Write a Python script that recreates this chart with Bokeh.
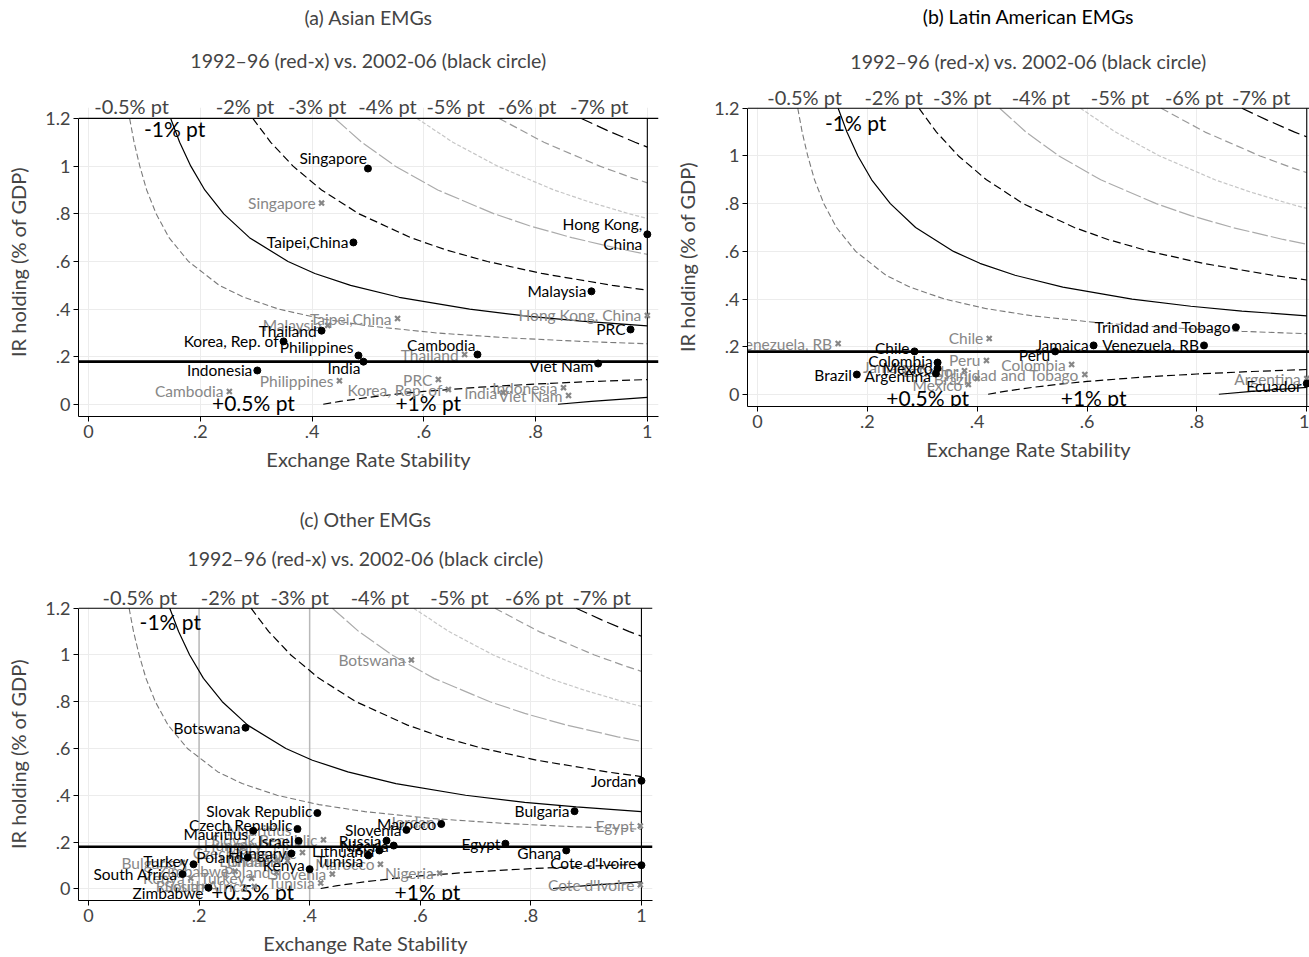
from bokeh.plotting import figure
from bokeh.models import Range1d, LinearAxis, FixedTicker, Span, Title, CustomJSTickFormatter
from bokeh.layouts import column, row
from bokeh.embed import file_html
from bokeh.resources import INLINE
from bokeh.core.properties import value

FONT = "Lato"

# ---------------- data: iso-curves ----------------
CURVE_M05_X = [0.0735, 0.0815, 0.0917, 0.104, 0.121, 0.144, 0.179, 0.234, 0.278, 0.341, 0.417, 0.5, 0.625, 0.75, 0.882, 1.0]
CURVE_M05_Y = [1.2, 1.1, 1.0, 0.9, 0.8, 0.7, 0.6, 0.5, 0.45, 0.4, 0.36, 0.33, 0.3, 0.28, 0.265, 0.255]
CURVE_M1_X = [0.147, 0.163, 0.183, 0.208, 0.242, 0.288, 0.357, 0.405, 0.469, 0.556, 0.682, 0.789, 0.882, 1.0]
CURVE_M1_Y = [1.2, 1.1, 1.0, 0.9, 0.8, 0.7, 0.6, 0.55, 0.5, 0.45, 0.4, 0.37, 0.35, 0.33]
CURVE_M2_X = [0.294, 0.326, 0.366, 0.417, 0.484, 0.577, 0.638, 0.714, 0.811, 0.9375, 1.0]
CURVE_M2_Y = [1.2, 1.1, 1.0, 0.9, 0.8, 0.7, 0.65, 0.6, 0.55, 0.5, 0.48]
CURVE_M3_X = [0.441, 0.489, 0.549, 0.625, 0.726, 0.789, 0.865, 0.957, 1.0]
CURVE_M3_Y = [1.2, 1.1, 1.0, 0.9, 0.8, 0.75, 0.7, 0.65, 0.63]
CURVE_M4_X = [0.588, 0.652, 0.732, 0.833, 0.896, 0.968, 1.0]
CURVE_M4_Y = [1.2, 1.1, 1.0, 0.9, 0.85, 0.8, 0.78]
CURVE_M5_X = [0.735, 0.815, 0.915, 0.974, 1.0]
CURVE_M5_Y = [1.2, 1.1, 1.0, 0.95, 0.93]
CURVE_M6_X = [0.882, 0.928, 0.978, 1.0]
CURVE_M6_Y = [1.2, 1.15, 1.1, 1.08]
CURVE_P05_X = [0.42, 0.45, 0.5, 0.55, 0.6, 0.7, 0.8, 0.9, 1.0]
CURVE_P05_Y = [0.0014, 0.0133, 0.03, 0.0436, 0.055, 0.0729, 0.0863, 0.0967, 0.105]
CURVE_P1_X = [0.84, 0.9, 0.95, 1.0]
CURVE_P1_Y = [0.0014, 0.0133, 0.0221, 0.03]

ZERO_LINE_Y = 0.18
TOP_LABELS = ["-0.5% pt", "-2% pt", "-3% pt", "-4% pt", "-5% pt", "-6% pt", "-7% pt"]
X_TICKS = [0, 0.2, 0.4, 0.6, 0.8, 1.0]
Y_TICKS = [0, 0.2, 0.4, 0.6, 0.8, 1.0, 1.2]
SUBTITLE = "1992\u201396 (red-x) vs. 2002-06 (black circle)"

# ---------------- data: panel (a) Asian EMGs ----------------
A_NEW_NAMES = ["Singapore", "Taipei,China", "Hong Kong,\nChina", "Malaysia", "PRC", "Thailand",
               "Korea, Rep. of", "Philippines", "India", "Cambodia", "Indonesia", "Viet Nam"]
A_NEW_X = [0.50, 0.474, 1.0, 0.90, 0.97, 0.417, 0.349, 0.483, 0.492, 0.696, 0.302, 0.912]
A_NEW_Y = [0.99, 0.68, 0.714, 0.475, 0.315, 0.31, 0.265, 0.206, 0.18, 0.21, 0.143, 0.172]
A_OLD_NAMES = ["Singapore", "Taipei,China", "Malaysia", "Hong Kong, China", "Thailand", "Philippines",
               "Cambodia", "PRC", "Korea, Rep. of", "India", "Indonesia", "Viet Nam"]
A_OLD_X = [0.417, 0.553, 0.428, 1.0, 0.673, 0.449, 0.252, 0.626, 0.644, 0.742, 0.85, 0.859]
A_OLD_Y = [0.845, 0.361, 0.332, 0.374, 0.21, 0.10, 0.055, 0.105, 0.063, 0.05, 0.071, 0.038]
A_TOP_TICKS = [0.077, 0.28, 0.409, 0.535, 0.657, 0.785, 0.914]

# ---------------- data: panel (b) Latin American EMGs ----------------
B_NEW_NAMES = ["Trinidad and Tobago", "Jamaica", "Venezuela, RB", "Chile", "Peru", "Colombia",
               "Mexico", "Argentina", "Brazil", "Ecuador"]
B_NEW_X = [0.871, 0.612, 0.813, 0.286, 0.542, 0.328, 0.328, 0.325, 0.181, 1.0]
B_NEW_Y = [0.282, 0.206, 0.206, 0.181, 0.181, 0.134, 0.11, 0.088, 0.084, 0.046]
B_OLD_NAMES = ["Venezuela, RB", "Chile", "Peru", "Colombia", "Jamaica", "Ecuador", "Brazil",
               "Trinidad and Tobago", "Mexico", "Argentina"]
B_OLD_X = [0.147, 0.422, 0.417, 0.572, 0.30, 0.377, 0.40, 0.596, 0.384, 1.0]
B_OLD_Y = [0.214, 0.235, 0.143, 0.126, 0.115, 0.10, 0.067, 0.084, 0.042, 0.067]
B_TOP_TICKS = [0.086, 0.248, 0.373, 0.516, 0.66, 0.795, 0.917]

# ---------------- data: panel (c) Other EMGs ----------------
C_NEW_NAMES = ["Botswana", "Jordan", "Bulgaria", "Slovak Republic", "Czech Republic", "Marocco",
               "Slovenia", "Mauritius", "Israel", "Russia", "Nigeria", "Egypt", "Lithuania",
               "Tunisia", "Ghana", "Hungary", "Poland", "Kenya", "Turkey", "South Africa",
               "Zimbabwe", "Cote d'Ivoire"]
C_NEW_X = [0.284, 1.0, 0.879, 0.414, 0.378, 0.638, 0.575, 0.298, 0.38, 0.539, 0.552, 0.754, 0.526,
           0.506, 0.864, 0.367, 0.288, 0.40, 0.19, 0.17, 0.217, 1.0]
C_NEW_Y = [0.689, 0.462, 0.332, 0.324, 0.256, 0.277, 0.252, 0.248, 0.205, 0.206, 0.185, 0.193, 0.164,
           0.143, 0.164, 0.151, 0.134, 0.084, 0.105, 0.063, 0.005, 0.101]
C_OLD_NAMES = ["Botswana", "Egypt", "Jordan", "Nigeria", "Cote d'Ivoire", "Marocco", "Mauritius",
               "Slovak Republic", "Czech Republic", "Slovenia", "Tunisia", "Hungary", "Israel",
               "Lithuania", "Ghana", "Bulgaria", "Zimbabwe", "Kenya", "Turkey", "Poland", "Russia",
               "South Africa"]
C_OLD_X = [0.584, 0.998, 0.637, 0.635, 0.998, 0.528, 0.378, 0.425, 0.387, 0.441, 0.42, 0.325, 0.36,
           0.36, 0.34, 0.17, 0.265, 0.185, 0.295, 0.34, 0.21, 0.30]
C_OLD_Y = [0.979, 0.269, 0.286, 0.067, 0.017, 0.105, 0.252, 0.21, 0.155, 0.063, 0.025, 0.189, 0.14,
           0.12, 0.12, 0.112, 0.075, 0.045, 0.045, 0.07, 0.01, 0.01]
C_TOP_TICKS = [0.093, 0.256, 0.382, 0.527, 0.671, 0.806, 0.928]

# ---------------- style ----------------
GRAY = "#878787"
CURVES = [
    (CURVE_M05_X, CURVE_M05_Y, "#7a7a7a", "6 3", 1.1),
    (CURVE_M1_X, CURVE_M1_Y, "black", "solid", 1.2),
    (CURVE_M2_X, CURVE_M2_Y, "black", "8 4", 1.2),
    (CURVE_M3_X, CURVE_M3_Y, "#ababab", "16 3", 1.2),
    (CURVE_M4_X, CURVE_M4_Y, "#c6c6c6", "4 2", 1.2),
    (CURVE_M5_X, CURVE_M5_Y, "#9a9a9a", "8 4", 1.2),
    (CURVE_M6_X, CURVE_M6_Y, "black", "12 5", 1.2),
    (CURVE_P05_X, CURVE_P05_Y, "black", "8 4", 1.2),
    (CURVE_P1_X, CURVE_P1_Y, "black", "solid", 1.2),
]

# label vertical nudges (screen px, + = down)
NEW_DY = {
    "Singapore": -11, "Philippines": -8, "India": 6, "Cambodia": -10, "Viet Nam": 2,
    "Chile": -3, "Peru": 4, "Colombia": -2, "Mexico": 0, "Argentina": 2, "Ecuador": 2,
    "Czech Republic": -4, "Slovak Republic": -2, "Mauritius": 3, "Tunisia": 6, "Ghana": 3,
    "Kenya": -4, "Turkey": -3, "Zimbabwe": 5, "Cote d'Ivoire": -2, "Lithuania": 1,
}
NEW_DX = {"Singapore": 4, "Cambodia": 3, "India": 2}

LABEL_SIZE = "15.5px"
TITLE_SIZE = "19.5px"

tickfmt = CustomJSTickFormatter(code="""
const v = Math.round(tick*10)/10;
if (v == 0) return '0';
return v.toString().replace(/^0\\./, '.');
""")


def make_panel(title, width, height, mbl, mbr, mbt, mbb, x_end, y_start, y_end, top_ticks,
               top_standoff, sub_standoff, main_standoff, new, old, minus1, plus05, plus1,
               extra_vlines=(), main_axis_gap=None):
    p = figure(width=width, height=height, x_range=Range1d(-0.018, x_end),
               y_range=Range1d(y_start, y_end), output_backend="svg", toolbar_location=None,
               min_border_left=mbl, min_border_right=mbr, min_border_top=mbt, min_border_bottom=mbb,
               title=None)
    p.outline_line_color = None
    p.background_fill_color = "white"
    p.border_fill_color = "white"

    p.xgrid.ticker = FixedTicker(ticks=X_TICKS)
    p.ygrid.ticker = FixedTicker(ticks=Y_TICKS)
    p.xgrid.grid_line_color = "#ececec"
    p.ygrid.grid_line_color = "#ececec"

    for ax in (p.xaxis[0], p.yaxis[0]):
        ax.formatter = tickfmt
        ax.axis_line_color = "black"
        ax.major_tick_line_color = "black"
        ax.major_tick_out = 5
        ax.major_tick_in = 0
        ax.minor_tick_line_color = None
        ax.major_label_text_font = FONT
        ax.major_label_text_font_size = "18px"
        ax.axis_label_text_font = FONT
        ax.axis_label_text_font_style = "normal"
        ax.major_label_standoff = 3
    p.xaxis[0].ticker = FixedTicker(ticks=X_TICKS)
    p.yaxis[0].ticker = FixedTicker(ticks=Y_TICKS)
    p.yaxis[0].bounds = (-0.3, 1.2)
    p.xaxis[0].axis_label = "Exchange Rate Stability"
    p.xaxis[0].axis_label_text_font_size = "20px"
    p.xaxis[0].axis_label_standoff = 6
    p.yaxis[0].axis_label = "IR holding (% of GDP)"
    p.yaxis[0].axis_label_text_font_size = "20px"
    p.yaxis[0].axis_label_standoff = 12

    # curve labels along the top: an extra axis above the frame
    top = LinearAxis(ticker=FixedTicker(ticks=top_ticks),
                     formatter=CustomJSTickFormatter(args=dict(L=TOP_LABELS), code="return L[index];"),
                     axis_line_color=None, major_tick_line_color=None, minor_tick_line_color=None,
                     major_tick_out=0, major_tick_in=0,
                     major_label_standoff=top_standoff, major_label_text_font=FONT,
                     major_label_text_font_size="20px")
    p.add_layout(top, "above")
    p.add_layout(Title(text=SUBTITLE, align="center", text_font=FONT, text_font_size=TITLE_SIZE,
                       text_font_style="normal", standoff=sub_standoff), "above")
    if main_axis_gap is None:
        p.add_layout(Title(text=title, align="center", text_font=FONT, text_font_size=TITLE_SIZE,
                           text_font_style="normal", standoff=main_standoff), "above")
    else:
        head = LinearAxis(ticker=FixedTicker(ticks=[]), axis_line_color=None,
                          major_tick_line_color=None, minor_tick_line_color=None,
                          major_tick_out=0, major_tick_in=0, major_label_standoff=0,
                          axis_label=title, axis_label_standoff=main_axis_gap,
                          axis_label_text_font=FONT, axis_label_text_font_size=TITLE_SIZE,
                          axis_label_text_font_style="normal", axis_label_text_color="black")
        p.add_layout(head, "above")

    for vx in extra_vlines:
        p.segment(x0=[vx], y0=[-0.3], x1=[vx], y1=[1.2], line_color="#b9b9b9", line_width=1.5)

    for cx, cy, col, dash, lw in CURVES:
        p.line(cx, cy, line_color=col, line_dash=dash, line_width=lw)

    p.add_layout(Span(location=ZERO_LINE_Y, dimension="width", line_color="black", line_width=2.6))
    p.add_layout(Span(location=1.2, dimension="width", line_color="black", line_width=1.3))
    p.segment(x0=[1.0], y0=[-0.3], x1=[1.0], y1=[1.2], line_color="black", line_width=1.1)

    for (lx, ly), txt in ((minus1, "-1% pt"), (plus05, "+0.5% pt"), (plus1, "+1% pt")):
        p.text(x=[lx], y=[ly], text=[txt], text_font=value(FONT), text_font_size="21px",
               text_align="center", text_baseline="middle", text_color="black")

    names, xs, ys = old
    p.scatter(xs, ys, marker="x", size=7, line_width=2.2, color=GRAY)
    p.text(x=xs, y=ys, text=names, x_offset=-6, text_align="right", text_baseline="middle",
           text_font=value(FONT), text_font_size=LABEL_SIZE, text_color=GRAY)

    names, xs, ys = new
    p.scatter(xs, ys, marker="circle", size=7, color="black")
    dys = [NEW_DY.get(n, 0) for n in names]
    dxs = [-5 + NEW_DX.get(n, 0) for n in names]
    p.text(x=xs, y=ys, text=names, x_offset=dxs, y_offset=dys, text_align="right",
           text_baseline="middle", text_font=value(FONT), text_font_size=LABEL_SIZE,
           text_color="black", text_line_height=1.1)
    return p


pa = make_panel("(a) Asian EMGs", 672, 478, 78, 14, 107, 62, 1.02, -0.05, 1.246, A_TOP_TICKS,
                -10, 37, 0,
                (A_NEW_NAMES, A_NEW_X, A_NEW_Y), (A_OLD_NAMES, A_OLD_X, A_OLD_Y),
                (0.154, 1.16), (0.295, 0.008), (0.608, 0.008))
pb = make_panel("(b) Latin American EMGs", 637, 478, 72, 0, 107, 72, 1.005, -0.05, 1.203,
                B_TOP_TICKS, -1, 17, 0,
                (B_NEW_NAMES, B_NEW_X, B_NEW_Y), (B_OLD_NAMES, B_OLD_X, B_OLD_Y),
                (0.179, 1.14), (0.31, -0.013), (0.612, -0.013), main_axis_gap=12)
pc = make_panel("(c) Other EMGs", 672, 479, 78, 20, 129, 52, 1.02, -0.05, 1.203, C_TOP_TICKS,
                -1, 23, 6,
                (C_NEW_NAMES, C_NEW_X, C_NEW_Y), (C_OLD_NAMES, C_OLD_X, C_OLD_Y),
                (0.148, 1.143), (0.297, -0.013), (0.613, -0.013), extra_vlines=(0.2, 0.4))

layout = column(row(pa, column(pb)), pc)
open("out.html", "w").write(file_html(layout, INLINE))
